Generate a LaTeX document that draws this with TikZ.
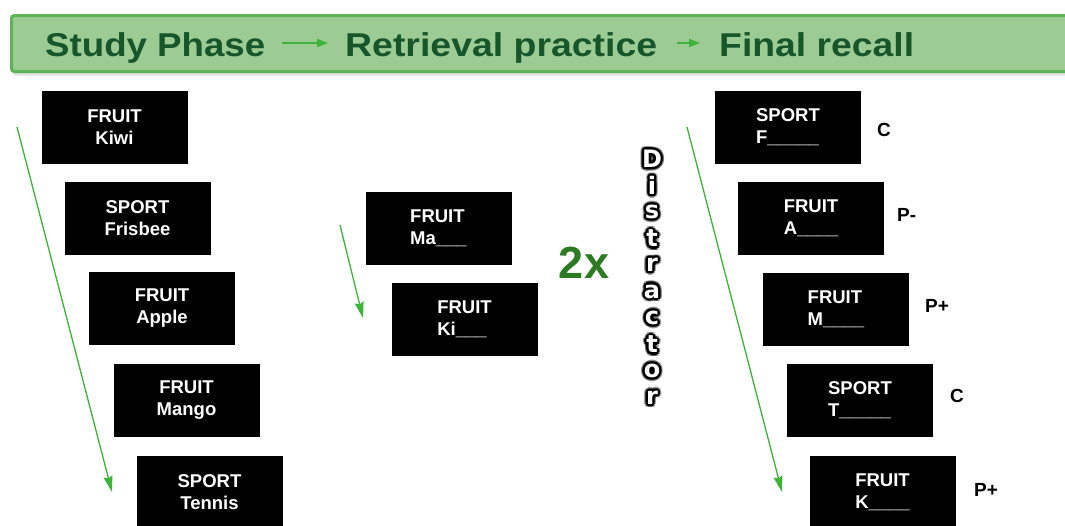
\documentclass[tikz,border=0pt]{standalone}
\usepackage{fontspec}
\setmainfont{Liberation Sans}
\newfontfamily\dvfont{DejaVu Sans}
\usetikzlibrary{arrows.meta,shadows}
\definecolor{bannerfill}{HTML}{9CCB94}
\definecolor{bannerline}{HTML}{5DB558}
\definecolor{bannertext}{HTML}{17552B}
\definecolor{arrowgreen}{HTML}{3DB33A}
\definecolor{twoxgreen}{HTML}{2C7A22}
\tikzset{
  card/.style={fill=black, text=white, minimum width=146pt, minimum height=73pt, inner sep=0pt,
    font=\fontsize{18.5}{22}\selectfont\bfseries},
  cardc/.style={card, align=center},
  cardl/.style={card, align=left},
  score/.style={anchor=west, inner sep=0pt, font=\fontsize{19}{22}\selectfont\bfseries},
  flow/.style={draw=arrowgreen, line width=1.3pt, -{Stealth[length=16pt,width=9pt,inset=2pt]}},
  bannerarrow/.style={draw=arrowgreen, line width=1.8pt, -{Triangle[length=11pt,width=8pt]}},
  word/.style={anchor=base west, inner sep=0pt, text=bannertext, font=\fontsize{33}{36}\selectfont\bfseries},
  dletter/.style={inner sep=0pt, font=\dvfont\fontsize{24}{24}\selectfont\bfseries},
}
\begin{document}
\begin{tikzpicture}[x=1pt,y=-1pt]
\useasboundingbox (0,0) rectangle (1065,525);
% banner
\node[draw=bannerline, fill=bannerfill, line width=3pt, rounded corners=3pt, minimum width=1075pt, minimum height=56pt, anchor=north west, inner sep=0pt,
  drop shadow={shadow xshift=1pt, shadow yshift=-4pt, opacity=0.25}] (banner) at (10,14) {};
\coordinate (bannerY) at (0,43);
\node[word] (w1) at (45,56) {\resizebox{220pt}{\height}{Study Phase}};
\node[word] (w2) at (345,56) {\resizebox{312pt}{\height}{Retrieval practice}};
\node[word] (w3) at (719,56) {\resizebox{195pt}{\height}{Final recall}};
\draw[bannerarrow, shorten <=17pt, shorten >=17pt] (w1.east |- bannerY) -- (w2.west |- bannerY);
\draw[bannerarrow, shorten <=20pt, shorten >=19pt] (w2.east |- bannerY) -- (w3.west |- bannerY);

% study phase
\node[cardc] (s1) at (114.5,127.5) {FRUIT\\Kiwi};
\node[cardc] (s2) at (137.5,218) {SPORT\\Frisbee};
\node[cardc] (s3) at (162,308.5) {FRUIT\\Apple};
\node[cardc] (s4) at (186.5,400.5) {FRUIT\\Mango};
\node[cardc] (s5) at (209.5,492.5) {SPORT\\Tennis};
\coordinate (la) at (17,127);
\coordinate (lb) at (112,492);
\draw[flow] (la) -- (lb);

% retrieval practice
\node[cardl] (r1) at (438.5,228) {FRUIT\\Ma\_\_\_};
\node[cardl] (r2) at (464.5,319) {FRUIT\\Ki\_\_\_};
\coordinate (ma) at (340,225);
\coordinate (mb) at (363,318);
\draw[flow] (ma) -- (mb);
\node[inner sep=0pt, text=twoxgreen, font=\fontsize{45}{45}\selectfont\bfseries] (twox) at (584,263) {2x};

% distractor
\foreach \ch [count=\i from 0] in {D,i,s,t,r,a,c,t,o,r} {
  \foreach \ang in {0,30,...,330} {
    \path (652,{159+26.5*\i}) ++(\ang:3.6) node[dletter, text=black, opacity=0.35] (g\i-\ang) {\ch};
    \path (652,{159+26.5*\i}) ++(\ang:2.2) node[dletter, text=black] (h\i-\ang) {\ch};
  }
  \node[dletter, text=white] (d\i) at (652,{159+26.5*\i}) {\ch};
}

% final recall
\node[cardl] (f1) at (788,127.5) {SPORT\\F\_\_\_\_\_};
\node[cardl] (f2) at (811,218.5) {FRUIT\\A\_\_\_\_};
\node[cardl] (f3) at (836,309) {FRUIT\\M\_\_\_\_};
\node[cardl] (f4) at (860,400.5) {SPORT\\T\_\_\_\_\_};
\node[cardl] (f5) at (882.5,492.5) {FRUIT\\K\_\_\_\_};
\node[score] (c1) at (877,130) {C};
\node[score] (c2) at (897,215) {P-};
\node[score] (c3) at (925,306) {P+};
\node[score] (c4) at (950,396) {C};
\node[score] (c5) at (974,490) {P+};
\coordinate (ra) at (687,127);
\coordinate (rb) at (782,492);
\draw[flow] (ra) -- (rb);
\end{tikzpicture}
\end{document}
